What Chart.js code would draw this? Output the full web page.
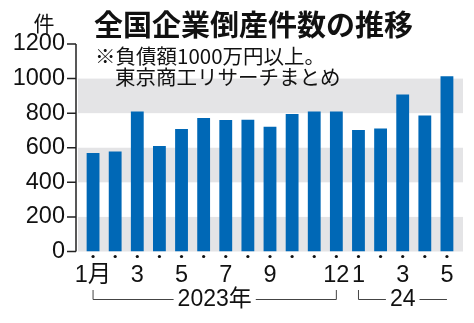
<!DOCTYPE html>
<html lang="ja">
<head>
<meta charset="UTF-8">
<title>全国企業倒産件数の推移</title>
<script src="https://cdn.jsdelivr.net/npm/chart.js"></script>
<style>
  body { margin: 0; background: #fff; }
  canvas { display: block; }
</style>
</head>
<body>
<canvas id="chart" width="474" height="323"></canvas>
<script>
// 2023年1月〜2024年5月の月別倒産件数
const months = ['1月', '2', '3', '4', '5', '6', '7', '8', '9', '10', '11', '12', '1', '2', '3', '4', '5'];
const labeledIdx = [0, 2, 4, 6, 8, 11, 12, 14, 16];
const counts = [570, 579, 810, 610, 708, 772, 761, 762, 722, 795, 809, 809, 703, 712, 908, 786, 1013];
const yTicks = [0, 200, 400, 600, 800, 1000, 1200];
const bands = [[0, 200], [400, 600], [800, 1000]];
const years = [
  { label: '2023年', from: 0, to: 11, closed: true },
  { label: '24', from: 12, to: 16, closed: false }
];

const numFont = "'Liberation Sans', sans-serif";
const jpFont = "'Noto Sans CJK JP', sans-serif";

// gray bands behind the bars
const bandPlugin = {
  id: 'bands',
  beforeDatasetsDraw(chart) {
    const { ctx, chartArea, scales: { y } } = chart;
    ctx.save();
    ctx.fillStyle = '#e4e4e6';
    bands.forEach(([lo, hi]) => {
      const top = y.getPixelForValue(hi);
      const bottom = y.getPixelForValue(lo);
      ctx.fillRect(chartArea.left - 4, top, chartArea.right - chartArea.left + 9, bottom - top);
    });
    ctx.restore();
  }
};

// y axis line, ticks, dots, year brackets and titles
const decorPlugin = {
  id: 'decor',
  afterDraw(chart) {
    const { ctx, chartArea, scales: { x, y } } = chart;
    ctx.save();

    const axisX = chartArea.left - 6;
    ctx.strokeStyle = '#222';
    ctx.lineWidth = 1.5;
    ctx.beginPath();
    ctx.moveTo(axisX, y.getPixelForValue(1200));
    ctx.lineTo(axisX, y.getPixelForValue(0));
    yTicks.forEach(v => {
      const py = y.getPixelForValue(v);
      ctx.moveTo(axisX - 9, py);
      ctx.lineTo(axisX, py);
    });
    ctx.stroke();

    // dots under every month
    ctx.fillStyle = '#111';
    months.forEach((m, i) => {
      ctx.beginPath();
      ctx.arc(x.getPixelForValue(i), chartArea.bottom + 5, 1.6, 0, Math.PI * 2);
      ctx.fill();
    });

    // year brackets
    ctx.strokeStyle = '#444';
    ctx.lineWidth = 1;
    ctx.fillStyle = '#111';
    ctx.font = '23px ' + numFont + ', ' + jpFont;
    ctx.textAlign = 'center';
    ctx.textBaseline = 'middle';
    const lineY = 299.5, tickTop = 290;
    years.forEach(g => {
      const x0 = x.getPixelForValue(g.from);
      const x1 = x.getPixelForValue(g.to);
      const mid = (x0 + x1) / 2;
      const half = ctx.measureText(g.label).width / 2 + 4;
      ctx.beginPath();
      ctx.moveTo(x0, tickTop);
      ctx.lineTo(x0, lineY);
      ctx.lineTo(mid - half, lineY);
      ctx.moveTo(mid + half, lineY);
      ctx.lineTo(x1, lineY);
      if (g.closed) ctx.lineTo(x1, tickTop);
      ctx.stroke();
      ctx.fillText(g.label, mid, 300);
    });

    // titles
    ctx.textAlign = 'left';
    ctx.font = 'bold 29px ' + jpFont;
    ctx.fillText('全国企業倒産件数の推移', 94, 25);
    ctx.font = '20.5px ' + jpFont;
    ctx.fillText('※負債額1000万円以上。', 95, 56);
    ctx.fillText('東京商工リサーチまとめ', 115, 77);
    ctx.textAlign = 'center';
    ctx.font = '21px ' + jpFont;
    ctx.fillText('件', 44, 23);

    ctx.restore();
  }
};

new Chart(document.getElementById('chart'), {
  type: 'bar',
  data: {
    labels: months,
    datasets: [{
      data: counts,
      backgroundColor: '#0068b6',
      borderWidth: 0,
      categoryPercentage: 1,
      barPercentage: 0.58
    }]
  },
  options: {
    responsive: false,
    animation: false,
    layout: { padding: { top: 44, right: 16, left: 0, bottom: 0 } },
    plugins: { legend: { display: false }, tooltip: { enabled: false } },
    scales: {
      x: {
        afterFit(scale) { scale.height = 71.5; },
        grid: { display: false, drawTicks: false },
        border: { display: false },
        ticks: {
          autoSkip: false,
          maxRotation: 0,
          padding: 10,
          color: '#111',
          font: { family: numFont + ', ' + jpFont, size: 23.5 },
          callback: (v, i) => labeledIdx.includes(i) ? months[i] : ''
        }
      },
      y: {
        min: 0,
        max: 1200,
        afterFit(scale) { scale.width = 82; },
        afterBuildTicks(scale) { scale.ticks = yTicks.map(v => ({ value: v })); },
        grid: { display: false, drawTicks: false },
        border: { display: false },
        ticks: {
          padding: 17,
          color: '#111',
          font: { family: numFont, size: 23.5 },
          callback: v => String(v)
        }
      }
    }
  },
  plugins: [bandPlugin, decorPlugin]
});
</script>
</body>
</html>
